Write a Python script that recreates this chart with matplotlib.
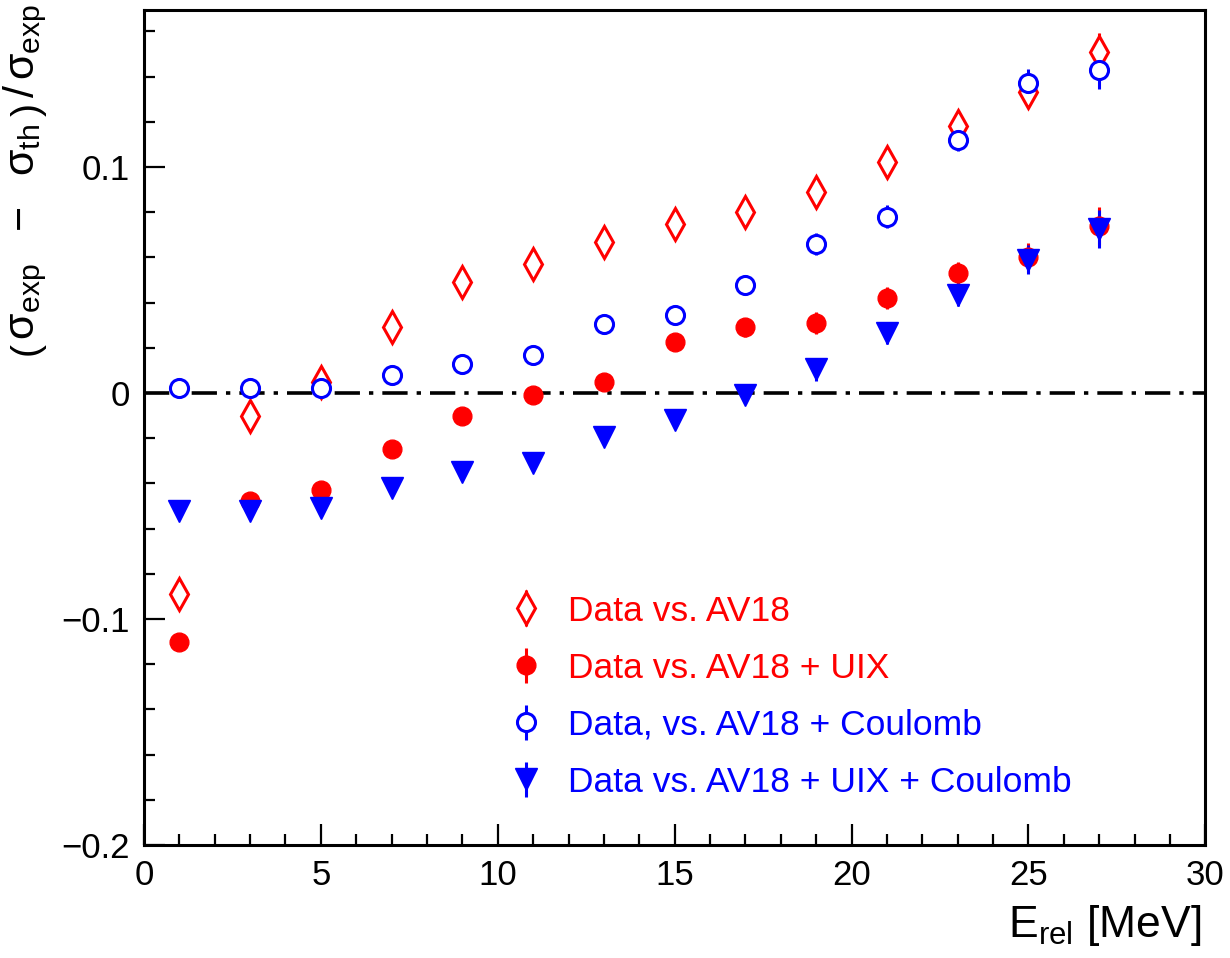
import matplotlib
matplotlib.use('Agg')
import matplotlib.pyplot as plt

plt.rcParams['font.family'] = ['Liberation Sans', 'DejaVu Sans']
plt.rcParams['mathtext.fontset'] = 'custom'
plt.rcParams['mathtext.rm'] = 'Liberation Sans'
plt.rcParams['mathtext.it'] = 'Liberation Sans'

# relative energy [MeV]
e_rel = [1, 3, 5, 7, 9, 11, 13, 15, 17, 19, 21, 23, 25, 27]

# (sigma_exp - sigma_th) / sigma_exp
av18 = [-0.089, -0.010, 0.005, 0.029, 0.049, 0.057, 0.067, 0.075,
        0.080, 0.089, 0.102, 0.118, 0.133, 0.151]
av18_uix = [-0.110, -0.048, -0.043, -0.025, -0.010, -0.001, 0.005, 0.0225,
            0.029, 0.031, 0.042, 0.053, 0.060, 0.074]
av18_coul = [0.002, 0.002, 0.002, 0.008, 0.013, 0.017, 0.0305, 0.0345,
             0.048, 0.066, 0.078, 0.112, 0.137, 0.143]
av18_uix_coul = [-0.052, -0.052, -0.051, -0.042, -0.035, -0.031, -0.0195, -0.012,
                 -0.001, 0.0105, 0.0265, 0.0435, 0.059, 0.0725]

err = [0.002, 0.002, 0.002, 0.002, 0.003, 0.003, 0.003, 0.003,
       0.004, 0.005, 0.005, 0.005, 0.0065, 0.0085]

red = '#ff0000'
blue = '#0000ff'

fig = plt.figure(figsize=(12.3, 9.58), dpi=100)
ax = fig.add_axes([0.117, 0.118, 0.863, 0.8716])

ax.axhline(0, color='black', lw=2.6, ls=(0, (7, 2.5, 1.2, 2.5)), zorder=1)

h1 = ax.errorbar(e_rel, av18, yerr=err, fmt='d', ms=16, mfc='white', mec=red,
                 mew=2.2, ecolor=red, elinewidth=2.2, capsize=0, label='Data vs. AV18')
h2 = ax.errorbar(e_rel, av18_uix, yerr=err, fmt='o', ms=13.5, mfc=red, mec=red,
                 ecolor=red, elinewidth=2.2, capsize=0, label='Data vs. AV18 + UIX')
h3 = ax.errorbar(e_rel, av18_coul, yerr=err, fmt='o', ms=13, mfc='white', mec=blue,
                 mew=2.2, ecolor=blue, elinewidth=2.2, capsize=0,
                 label='Data, vs. AV18 + Coulomb')
h4 = ax.errorbar(e_rel, av18_uix_coul, yerr=err, fmt='v', ms=16, mfc=blue, mec=blue,
                 ecolor=blue, elinewidth=2.2, capsize=0,
                 label='Data vs. AV18 + UIX + Coulomb')

ax.set_xlim(0, 30)
ax.set_ylim(-0.2, 0.1695)
ax.set_xticks([0, 5, 10, 15, 20, 25, 30])
ax.set_xticks(range(0, 31), minor=True)
ax.set_yticks([-0.2, -0.1, 0, 0.1])
ax.set_yticklabels(['\u22120.2', '\u22120.1', '0', '0.1'])
ax.set_yticks([-0.2 + 0.02 * i for i in range(19)], minor=True)
ax.tick_params(which='both', direction='in', top=False, right=False,
               width=1.6, labelsize=25)
ax.tick_params(which='major', length=15)
ax.tick_params(which='minor', length=8)
ax.tick_params(axis='x', pad=10)
ax.tick_params(axis='y', pad=10)
for s in ax.spines.values():
    s.set_linewidth(2.2)

ax.set_ylabel(r'$\left(\,\sigma_{\rm exp}\ \ -\ \ \sigma_{\rm th}\,\right)\,/\,\sigma_{\rm exp}$',
              fontsize=31)
ax.yaxis.set_label_coords(-0.088, 0.795)
ax.set_xlabel(r'E$_{\rm rel}$ [MeV]', fontsize=32, loc='right')
ax.xaxis.set_label_coords(0.996, -0.07)

leg = ax.legend(handles=[h1, h2, h3, h4], loc='upper left',
                bbox_to_anchor=(0.313, 0.338), frameon=False, fontsize=25.5,
                handlelength=1.0, handletextpad=0.7, labelspacing=0.68)
for t, c in zip(leg.get_texts(), [red, red, blue, blue]):
    t.set_color(c)

fig.savefig('out.png', dpi=100)
